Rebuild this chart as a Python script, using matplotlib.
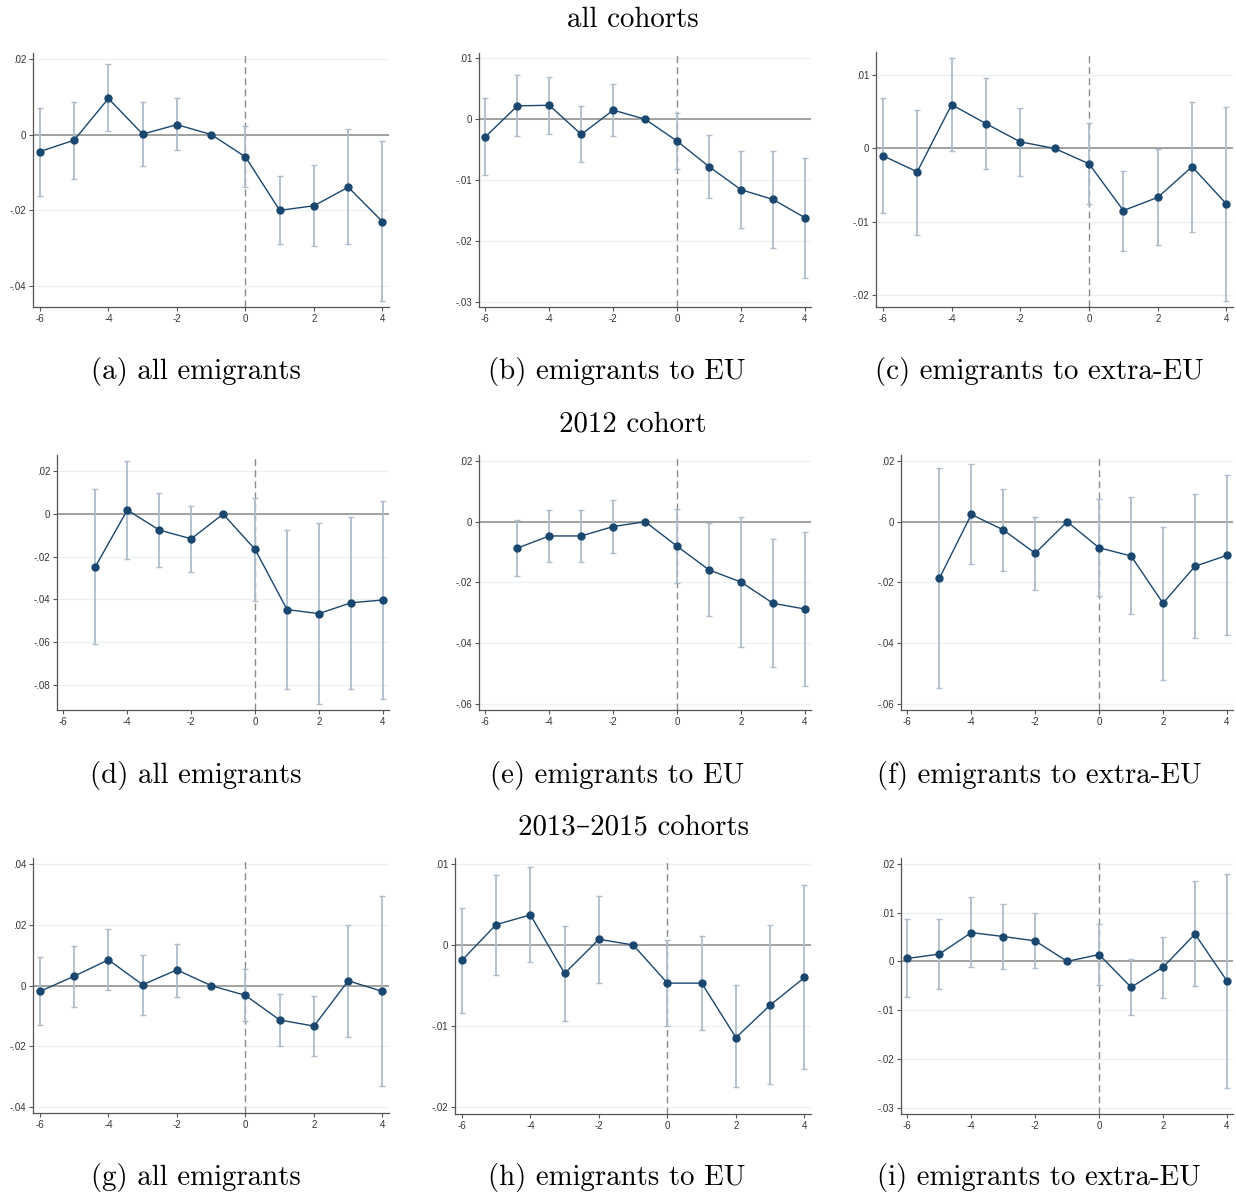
import numpy as np
import matplotlib
matplotlib.use("Agg")
import matplotlib.pyplot as plt

# event time
t_full = [-6, -5, -4, -3, -2, -1, 0, 1, 2, 3, 4]
t_short = [-5, -4, -3, -2, -1, 0, 1, 2, 3, 4]
nan = np.nan

# all cohorts
coef_a = [-0.0045, -0.0015, 0.0095, 0.0001, 0.0026, 0, -0.0059, -0.0200, -0.0188, -0.0139, -0.0230]
hi_a = [0.0071, 0.0087, 0.0185, 0.0087, 0.0095, nan, 0.0022, -0.0110, -0.0080, 0.0014, -0.0018]
lo_a = [-0.0161, -0.0117, 0.0008, -0.0083, -0.0042, nan, -0.0139, -0.0290, -0.0295, -0.0290, -0.0439]

coef_b = [-0.0029, 0.0022, 0.0023, -0.0025, 0.0015, 0, -0.0036, -0.0078, -0.0116, -0.0132, -0.0162]
hi_b = [0.0035, 0.0073, 0.0070, 0.0022, 0.0058, nan, 0.0011, -0.0026, -0.0053, -0.0052, -0.0063]
lo_b = [-0.0092, -0.0027, -0.0024, -0.0071, -0.0027, nan, -0.0082, -0.0130, -0.0179, -0.0212, -0.0261]

coef_c = [-0.0010, -0.0032, 0.0060, 0.0034, 0.0009, 0, -0.0021, -0.0085, -0.0067, -0.0025, -0.0076]
hi_c = [0.0069, 0.0053, 0.0124, 0.0096, 0.0056, nan, 0.0035, -0.0031, -0.0001, 0.0064, 0.0057]
lo_c = [-0.0089, -0.0118, -0.0004, -0.0028, -0.0038, nan, -0.0076, -0.0140, -0.0132, -0.0114, -0.0209]

# 2012 cohort
coef_d = [-0.0247, 0.0019, -0.0075, -0.0116, 0, -0.0166, -0.0448, -0.0467, -0.0416, -0.0403]
hi_d = [0.0119, 0.0248, 0.0100, 0.0039, nan, 0.0073, -0.0077, -0.0042, -0.0013, 0.0061]
lo_d = [-0.0611, -0.0209, -0.0248, -0.0270, nan, -0.0406, -0.0819, -0.0891, -0.0819, -0.0866]

coef_e = [-0.0087, -0.0047, -0.0047, -0.0016, 0, -0.0081, -0.0159, -0.0199, -0.0269, -0.0288]
hi_e = [0.0004, 0.0040, 0.0037, 0.0073, nan, 0.0043, -0.0004, 0.0016, -0.0058, -0.0034]
lo_e = [-0.0179, -0.0134, -0.0132, -0.0104, nan, -0.0203, -0.0312, -0.0414, -0.0478, -0.0542]

coef_f = [-0.0187, 0.0024, -0.0027, -0.0104, 0, -0.0086, -0.0113, -0.0269, -0.0147, -0.0111]
hi_f = [0.0176, 0.0189, 0.0108, 0.0016, nan, 0.0076, 0.0080, -0.0018, 0.0090, 0.0153]
lo_f = [-0.0547, -0.0141, -0.0163, -0.0225, nan, -0.0246, -0.0305, -0.0521, -0.0384, -0.0373]

# 2013-2015 cohorts
coef_g = [-0.0019, 0.0031, 0.0085, 0.0003, 0.0052, 0, -0.0032, -0.0113, -0.0133, 0.0016, -0.0019]
hi_g = [0.0094, 0.0131, 0.0186, 0.0101, 0.0137, nan, 0.0054, -0.0026, -0.0034, 0.0198, 0.0294]
lo_g = [-0.0131, -0.0069, -0.0013, -0.0095, -0.0036, nan, -0.0116, -0.0198, -0.0230, -0.0168, -0.0331]

coef_h = [-0.0019, 0.0025, 0.0037, -0.0035, 0.0007, 0, -0.0047, -0.0047, -0.0114, -0.0074, -0.0040]
hi_h = [0.0046, 0.0086, 0.0096, 0.0023, 0.0060, nan, 0.0006, 0.0011, -0.0049, 0.0024, 0.0074]
lo_h = [-0.0084, -0.0037, -0.0021, -0.0094, -0.0047, nan, -0.0100, -0.0105, -0.0175, -0.0171, -0.0153]

coef_i = [0.0006, 0.0015, 0.0059, 0.0051, 0.0042, 0, 0.0014, -0.0053, -0.0012, 0.0056, -0.0040]
hi_i = [0.0086, 0.0086, 0.0131, 0.0118, 0.0099, nan, 0.0077, 0.0004, 0.0051, 0.0164, 0.0179]
lo_i = [-0.0074, -0.0056, -0.0012, -0.0016, -0.0014, nan, -0.0049, -0.0109, -0.0075, -0.0051, -0.0260]

captions = ["(a) all emigrants", "(b) emigrants to EU", "(c) emigrants to extra-EU",
            "(d) all emigrants", "(e) emigrants to EU", "(f) emigrants to extra-EU",
            "(g) all emigrants", "(h) emigrants to EU", "(i) emigrants to extra-EU"]
headers = ["all cohorts", "2012 cohort", "2013\u20132015 cohorts"]

W, H = 1236, 1194
fig = plt.figure(figsize=(W / 100, H / 100), dpi=100)

# panel boxes in pixels: left, right, top, bottom
boxes = [(33, 389, 53, 307), (479, 811, 53, 307), (876, 1233, 52, 307),
         (57, 389, 455, 710), (479, 811, 455, 710), (901, 1233, 455, 710),
         (33, 389, 858, 1113), (455, 811, 858, 1114), (901, 1233, 858, 1114)]
ylims = [(-0.0455, 0.0215), (-0.0309, 0.0109), (-0.0217, 0.0132),
         (-0.0919, 0.0277), (-0.0621, 0.0220), (-0.0621, 0.0220),
         (-0.0419, 0.0420), (-0.0208, 0.0107), (-0.0313, 0.0212)]
yticks = [[-0.04, -0.02, 0, 0.02], [-0.03, -0.02, -0.01, 0, 0.01], [-0.02, -0.01, 0, 0.01],
          [-0.08, -0.06, -0.04, -0.02, 0, 0.02], [-0.06, -0.04, -0.02, 0, 0.02],
          [-0.06, -0.04, -0.02, 0, 0.02], [-0.04, -0.02, 0, 0.02, 0.04],
          [-0.02, -0.01, 0, 0.01], [-0.03, -0.02, -0.01, 0, 0.01, 0.02]]
series = [(t_full, coef_a, lo_a, hi_a), (t_full, coef_b, lo_b, hi_b), (t_full, coef_c, lo_c, hi_c),
          (t_short, coef_d, lo_d, hi_d), (t_short, coef_e, lo_e, hi_e), (t_short, coef_f, lo_f, hi_f),
          (t_full, coef_g, lo_g, hi_g), (t_full, coef_h, lo_h, hi_h), (t_full, coef_i, lo_i, hi_i)]
cap_x = [196, 617, 1039]
cap_y = [372, 775, 1178]
head_y = [20, 424, 827]


def stata_fmt(v):
    s = f"{v:.2f}"
    if s in ("0.00", "-0.00"):
        return "0"
    return s.replace("0.", ".", 1)


navy = "#1a476f"
ci_col = "#aebccb"
serif = ["cmr10", "DejaVu Serif"]
for k, (box, yl, yt, (t, c, lo, hi)) in enumerate(zip(boxes, ylims, yticks, series)):
    l, r, tp, b = box
    ax = fig.add_axes([l / W, 1 - b / H, (r - l) / W, (b - tp) / H])
    t = np.array(t, float)
    c = np.array(c)
    lo = np.array(lo)
    hi = np.array(hi)
    ok = ~np.isnan(lo)
    ax.errorbar(t[ok], c[ok], yerr=[c[ok] - lo[ok], hi[ok] - c[ok]], fmt="none",
                ecolor=ci_col, elinewidth=1.3, capsize=2.2, capthick=1.0, zorder=2)
    ax.plot(t, c, color=navy, lw=1.0, marker="o", ms=5, mfc=navy, mec=navy, zorder=3)
    ax.axhline(0, color="#8a8a8a", lw=1.1, zorder=1)
    ax.axvline(0, color="#8a8a8a", lw=1.0, ls=(0, (5, 3)), zorder=1)
    for v in yt:
        ax.axhline(v, color="#eaf1f3", lw=0.9, zorder=0)
    ax.set_xlim(-6.2, 4.19)
    ax.set_ylim(*yl)
    ax.set_xticks([-6, -4, -2, 0, 2, 4])
    ax.set_xticklabels([str(x) for x in [-6, -4, -2, 0, 2, 4]])
    ax.set_yticks(yt)
    ax.set_yticklabels([stata_fmt(v) for v in yt])
    ax.tick_params(labelsize=7, length=3, width=0.8, color="#555555", labelcolor="#333333", pad=2)
    for sp in ["top", "right"]:
        ax.spines[sp].set_visible(False)
    for sp in ["left", "bottom"]:
        ax.spines[sp].set_color("#555555")
        ax.spines[sp].set_linewidth(0.9)
    for lab in ax.get_xticklabels() + ax.get_yticklabels():
        lab.set_family(["Liberation Sans", "DejaVu Sans"])
    fig.text(cap_x[k % 3] / W, 1 - cap_y[k // 3] / H, captions[k], ha="center", va="center",
             fontsize=20.8, family=serif)

for j, h in enumerate(headers):
    fig.text(633 / W, 1 - head_y[j] / H, h, ha="center", va="center",
             fontsize=20.8, family=serif)

fig.savefig("out.png", dpi=100)
